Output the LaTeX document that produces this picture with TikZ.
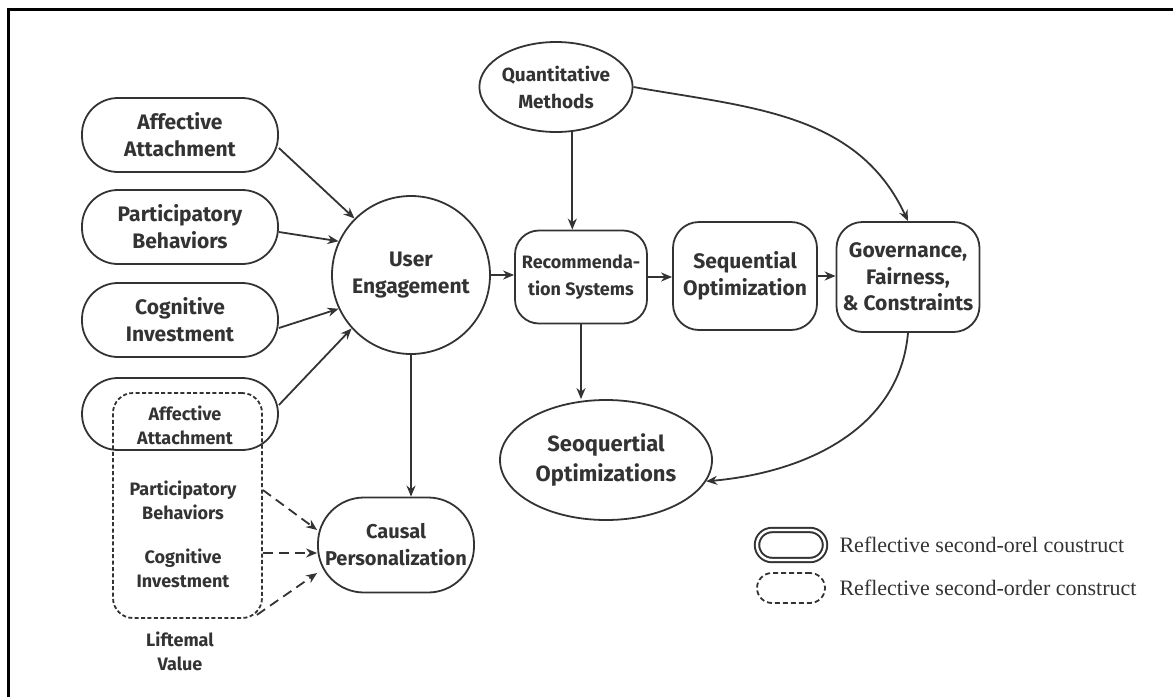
\documentclass[tikz,border=0pt]{standalone}
\usepackage{fontspec}
\setmainfont{Fira Sans}
\newfontfamily\legendfont{Liberation Serif}
\usetikzlibrary{arrows.meta,shapes.geometric}
\colorlet{ink}{black!80}

\begin{document}
\begin{tikzpicture}[x=0.5pt,y=-0.5pt, line width=0.9pt, color=ink,
    lbl/.style={font=\bfseries\fontsize{10.5}{13.5}\selectfont, align=center},
    small/.style={font=\bfseries\fontsize{9}{12}\selectfont, align=center},
    pill/.style={draw, rounded corners=18pt, minimum width=98pt, minimum height=37pt, inner sep=0pt, lbl},
    box/.style={draw, rounded corners=13pt, inner sep=0pt, lbl},
    oval/.style={draw, ellipse, inner sep=0pt},
    keytext/.style={anchor=west, font=\legendfont\fontsize{11}{13}\selectfont},
    arr/.style={-{Stealth[length=5.5pt,width=4.5pt]}},
    dasharr/.style={arr, dash pattern=on 5pt off 3pt}]
  \useasboundingbox (0,0) rectangle (1173,697);
  \draw[line width=1.5pt, black] (1173,9) -- (8,9) -- (8,697);

  \node[pill] (aff) at (180,135) {Affective\\Attachment};
  \node[pill] (par) at (180,227) {Participatory\\Behaviors};
  \node[pill] (cog) at (180,320) {Cognitive\\Investment};
  \node[pill, minimum height=36pt] (aff2) at (180,414) {};
  \node[small] (aff2t) at (185,425) {Affective\\Attachment};
  \node[draw, dash pattern=on 2pt off 1.2pt, rounded corners=10pt, minimum width=74.5pt, minimum height=112.5pt] (lv) at (187.5,505.5) {};
  \node[small] (par2) at (183,500) {Participatory\\Behaviors};
  \node[small] (cog2) at (183,568) {Cognitive\\Investment};
  \node[small] (lvt) at (180,651) {Liftemal\\Value};

  \node[draw, circle, minimum size=79pt, inner sep=0pt, lbl] (ue) at (411,275) {User\\Engagement};
  \node[box, rounded corners=23pt, minimum width=78pt, minimum height=47.5pt, font=\bfseries\fontsize{10}{13.5}\selectfont] (cp) at (396,545) {Causal\\Personalization};
  \node[box, rounded corners=12pt, minimum width=66pt, minimum height=46.5pt, font=\bfseries\fontsize{9}{13.5}\selectfont] (rec) at (581,277) {Recommenda-\\tion Systems};
  \node[box, minimum width=72pt, minimum height=54pt] (seq) at (745,276) {Sequential\\Optimization};
  \node[box, minimum width=71.5pt, minimum height=55pt, font=\bfseries\fontsize{10.5}{13.25}\selectfont] (gov) at (908,277) {Governance,\\Fairness,\\\& Constraints};
  \node[oval, minimum width=74pt, minimum height=45pt, align=center, font=\bfseries\fontsize{9.5}{13.5}\selectfont] (qm) at (556,87) {Quantitative\\Methods};
  \node[oval, minimum width=106pt, minimum height=60pt, align=center, font=\bfseries\fontsize{11}{15}\selectfont] (seqs) at (606,460) {Seoquertial\\Optimizations};

  \node[draw, line width=1pt, double=white, double distance=1.2pt, rounded corners=7.5pt, minimum width=34pt, minimum height=15pt] (key1) at (791,545) {};
  \node[keytext] (key1t) at (832,545) {Reflective second-orel coustruct};
  \node[draw, dash pattern=on 2.5pt off 1.5pt, rounded corners=7.5pt, minimum width=34pt, minimum height=15pt] (key2) at (791,588) {};
  \node[keytext] (key2t) at (832,588) {Reflective second-order construct};

  \draw[arr] ([yshift=-6.5pt]aff.east) -- (ue.135);
  \draw[arr] ([yshift=-2.5pt]par.east) -- (ue.155);
  \draw[arr] ([yshift=-4pt]cog.east) -- (ue.205);
  \draw[arr] ([yshift=4.5pt]aff2.east) -- (ue.222);
  \draw[arr] (ue.south) -- (ue.south |- cp.north);
  \draw[dasharr] ([yshift=7.75pt]lv.east) -- ([yshift=7.5pt]cp.west);
  \draw[dasharr] ([yshift=-23.75pt]lv.east) -- ([yshift=-4pt]cp.west);
  \draw[dasharr] ([shift={(-3pt,2pt)}]lv.south east) -- ([yshift=-14pt]cp.west);
  \draw[arr] (ue.east) -- (ue.east -| rec.west);
  \draw[arr] (rec.east) -- (rec.east -| seq.west);
  \draw[arr] (seq.east) -- (seq.east -| gov.west);
  \draw[arr] (qm.-70) -- (qm.-70 |- rec.north);
  \draw[arr] (rec.south) -- (rec.south |- seqs.north);
  \draw[arr] (qm.east) to[out=-10,in=115] (gov.north);
  \draw[arr] (gov.south) to[out=-95,in=5] (seqs.-12);
\end{tikzpicture}
\end{document}
